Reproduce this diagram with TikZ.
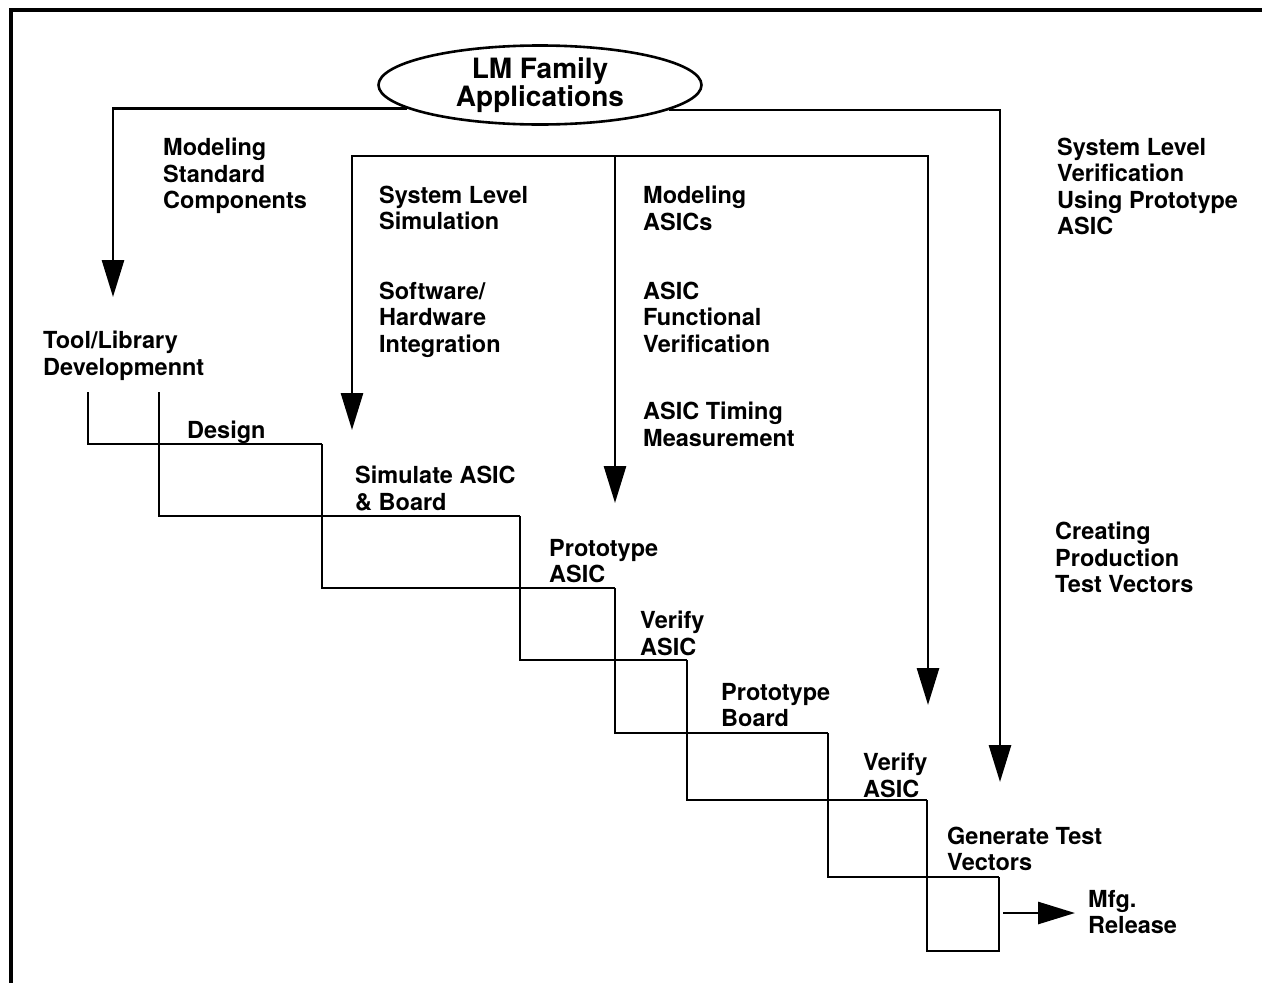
\documentclass[tikz,border=0pt]{standalone}
\usepackage{fontspec}
\setmainfont{TeX Gyre Heros}
\usetikzlibrary{arrows.meta,shapes.geometric}

\tikzset{
  line/.style={line width=2.8pt},
  flow/.style={line width=2.8pt, -{Triangle[length=37pt,width=22pt]}},
  lbl/.style={anchor=north west, inner sep=0pt, align=left,
              font=\bfseries\fontsize{23.5}{26.3}\selectfont}
}

\begin{document}
\begin{tikzpicture}[x=1pt,y=-1pt]
    \useasboundingbox (0,0) rectangle (1262,983);

    % Frame (top and left only)
    \draw[line width=3.5pt] (11,983) -- (11,10) -- (1262,10);

    % Central ellipse
    \node[ellipse, draw, line width=2.6pt, minimum width=323pt, minimum height=79pt,
          inner sep=0pt, align=center, font=\bfseries\fontsize{28}{27.5}\selectfont]
          (apps) at (540,85) {LM Family\\Applications};

    % Arrow tips and bus
    \coordinate (tooltip) at (113,297);      % to Tool/Library
    \coordinate (simtip) at (352,430);       % to Simulate ASIC
    \coordinate (protip) at (615,503);       % to Prototype ASIC
    \coordinate (boardtip) at (928,705);     % to Verify ASIC (second)
    \coordinate (verifytip) at (1000,782);   % to Generate Test Vectors
    \coordinate (busL) at (352,156);
    \coordinate (busM) at (615,156);
    \coordinate (busR) at (928,156);
    \coordinate (mfgfrom) at (1003,913);
    \coordinate (mfgtip) at (1075,913);

    % Connectors
    \draw[flow] (apps.190.5) -| (tooltip);
    \draw[flow] (apps.349.5) -| (verifytip);
    \draw[flow] (busR) -- (busL) -- (simtip);
    \draw[flow] (busL) -- (busR) -- (boardtip);
    \draw[flow] (busM) -- (protip);
    \draw[flow] (mfgfrom) -- (mfgtip);

    % Staircase
    \foreach \xa/\ya/\yb/\xb in {88/392/444/322, 159/392/516/520, 322/444/588/615,
        520/516/660/687, 615/588/733/828, 687/660/800/927, 828/733/877/999}
        \draw[line] (\xa,\ya) |- (\xb,\yb);
    \draw[line] (927,800) |- (999,951) -- (999,877);

    % Labels
    \node[lbl] (modstd) at (163,138) {Modeling\\Standard\\Components};
    \node[lbl] (syssim) at (379,186) {System Level\\Simulation};
    \node[lbl] (swhw) at (379,282) {Software/\\Hardware\\Integration};
    \node[lbl] (modasic) at (643,186) {Modeling\\ASICs};
    \node[lbl] (asicfun) at (643,282) {ASIC\\Functional\\Verification};
    \node[lbl] (asictime) at (643,402) {ASIC Timing\\Measurement};
    \node[lbl] (sysver) at (1057,138) {System Level\\Verification\\Using Prototype\\ASIC};
    \node[lbl] (toollib) at (43,331) {Tool/Library\\Developmennt};
    \node[lbl] (design) at (187,421) {Design};
    \node[lbl] (simasic) at (355,466) {Simulate ASIC\\\& Board};
    \node[lbl] (protoasic) at (549,539) {Prototype\\ASIC};
    \node[lbl] (verifya) at (640,611) {Verify\\ASIC};
    \node[lbl] (protoboard) at (721,683) {Prototype\\Board};
    \node[lbl] (verifyb) at (863,753) {Verify\\ASIC};
    \node[lbl] (gentest) at (947,827) {Generate Test\\Vectors};
    \node[lbl] (creating) at (1055,522) {Creating\\Production\\Test Vectors};
    \node[lbl] (mfg) at (1088,890) {Mfg.\\Release};
\end{tikzpicture}
\end{document}
